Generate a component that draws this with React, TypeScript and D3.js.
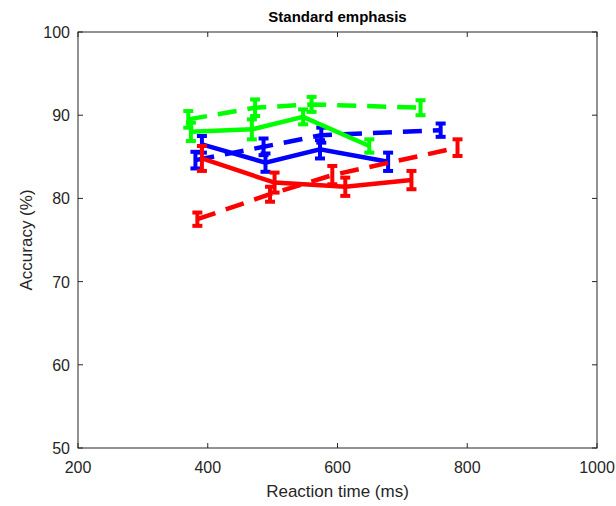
import React from "react";
import * as d3 from "d3";

const xTicks = [200, 400, 600, 800, 1000];
const yTicks = [50, 60, 70, 80, 90, 100];

const greenDashedRT = [370, 473, 560, 728];
const greenDashedAcc = [89.5, 90.9, 91.3, 90.9];
const greenDashedErr = [1.0, 1.0, 0.9, 0.9];

const greenSolidRT = [374, 468, 547, 649];
const greenSolidAcc = [88.0, 88.3, 89.8, 86.3];
const greenSolidErr = [1.1, 1.2, 0.9, 0.8];

const blueDashedRT = [381, 486, 575, 759];
const blueDashedAcc = [84.6, 86.2, 87.6, 88.2];
const blueDashedErr = [1.0, 1.0, 0.9, 0.8];

const blueSolidRT = [391, 489, 573, 678];
const blueSolidAcc = [86.5, 84.3, 85.9, 84.4];
const blueSolidErr = [1.0, 1.1, 1.1, 1.1];

const redDashedRT = [384, 496, 592, 785];
const redDashedAcc = [77.5, 80.5, 82.8, 86.1];
const redDashedErr = [0.8, 0.9, 1.1, 1.0];

const redSolidRT = [391, 503, 612, 714];
const redSolidAcc = [84.8, 81.9, 81.4, 82.2];
const redSolidErr = [1.5, 1.2, 1.1, 1.1];

const series = [
  { rt: blueDashedRT, acc: blueDashedAcc, err: blueDashedErr, color: "#0000ff", dashed: true },
  { rt: blueSolidRT, acc: blueSolidAcc, err: blueSolidErr, color: "#0000ff", dashed: false },
  { rt: redDashedRT, acc: redDashedAcc, err: redDashedErr, color: "#ff0000", dashed: true },
  { rt: redSolidRT, acc: redSolidAcc, err: redSolidErr, color: "#ff0000", dashed: false },
  { rt: greenDashedRT, acc: greenDashedAcc, err: greenDashedErr, color: "#00ff00", dashed: true },
  { rt: greenSolidRT, acc: greenSolidAcc, err: greenSolidErr, color: "#00ff00", dashed: false },
];

export default function App() {
  const W = 616, H = 506;
  const left = 78, right = 597, top = 32, bottom = 448;
  const x = d3.scaleLinear().domain([200, 1000]).range([left, right]);
  const y = d3.scaleLinear().domain([50, 100]).range([bottom, top]);
  const line = d3.line<[number, number]>().x(d => x(d[0])).y(d => y(d[1]));
  const axisColor = "#262626";
  const font = "Liberation Sans, Arial, sans-serif";
  return (
    <svg width={W} height={H} style={{ position: "absolute", left: 0, top: 0 }} fontFamily={font}>
      <rect x={0} y={0} width={W} height={H} fill="#ffffff" />
      <text x={(left + right) / 2} y={22} textAnchor="middle" fontSize={15} fontWeight="bold" fill="#000">Standard emphasis</text>
      {series.map((s, i) => {
        const pts = s.rt.map((r, j) => [r, s.acc[j]] as [number, number]);
        return (
          <g key={i}>
            <path d={line(pts) || ""} fill="none" stroke={s.color} strokeWidth={4.5}
              strokeDasharray={s.dashed ? "19 11" : undefined} />
            {pts.map((p, j) => {
              const cx = x(p[0]);
              const y1 = y(p[1] + s.err[j]);
              const y2 = y(p[1] - s.err[j]);
              return (
                <g key={j} stroke={s.color} strokeWidth={4}>
                  <line x1={cx} x2={cx} y1={y1} y2={y2} />
                  <line x1={cx - 5} x2={cx + 5} y1={y1} y2={y1} />
                  <line x1={cx - 5} x2={cx + 5} y1={y2} y2={y2} />
                </g>
              );
            })}
          </g>
        );
      })}
      <rect x={left} y={top} width={right - left} height={bottom - top} fill="none" stroke={axisColor} strokeWidth={1} />
      {xTicks.map(t => (
        <g key={"x" + t}>
          <line x1={x(t)} x2={x(t)} y1={bottom} y2={bottom - 5} stroke={axisColor} />
          <line x1={x(t)} x2={x(t)} y1={top} y2={top + 5} stroke={axisColor} />
          <text x={x(t)} y={473} textAnchor="middle" fontSize={16} fill={axisColor}>{t}</text>
        </g>
      ))}
      {yTicks.map(t => (
        <g key={"y" + t}>
          <line x1={left} x2={left + 5} y1={y(t)} y2={y(t)} stroke={axisColor} />
          <line x1={right} x2={right - 5} y1={y(t)} y2={y(t)} stroke={axisColor} />
          <text x={70} y={y(t) + 6} textAnchor="end" fontSize={16} fill={axisColor}>{t}</text>
        </g>
      ))}
      <text x={(left + right) / 2} y={497} textAnchor="middle" fontSize={17} fill={axisColor}>Reaction time (ms)</text>
      <text transform={`translate(32,${(top + bottom) / 2}) rotate(-90)`} textAnchor="middle" fontSize={17} fill={axisColor}>Accuracy (%)</text>
    </svg>
  );
}
